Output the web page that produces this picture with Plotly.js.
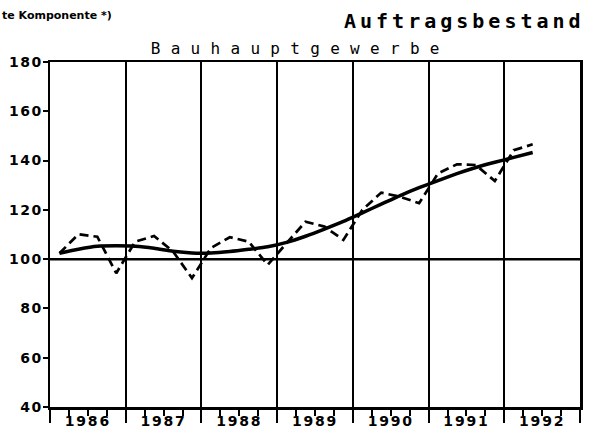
<!DOCTYPE html>
<html>
<head>
<meta charset="utf-8">
<script src="https://cdn.plot.ly/plotly-3.0.1.min.js"></script>
<style>
  html, body { margin: 0; padding: 0; background: #fff; }
  #chart { width: 593px; height: 436px; }
  .annotation[data-index="1"] text { letter-spacing: 4px; }
  .annotation[data-index="2"] text { letter-spacing: 10.3px; }
  .xtick text { letter-spacing: 1.8px; }
  .ytick text { letter-spacing: 1.5px; }
</style>
</head>
<body>
<div id="chart"></div>
<script>
// ---- data ----
const years = [1986, 1987, 1988, 1989, 1990, 1991, 1992];
const yearLabels = ["1986", "1987", "1988", "1989", "1990", "1991", "1992"];
const quarters = ["1986Q1","1986Q2","1986Q3","1986Q4","1987Q1","1987Q2","1987Q3","1987Q4",
                  "1988Q1","1988Q2","1988Q3","1988Q4","1989Q1","1989Q2","1989Q3","1989Q4",
                  "1990Q1","1990Q2","1990Q3","1990Q4","1991Q1","1991Q2","1991Q3","1991Q4",
                  "1992Q1","1992Q2"];
const originalSeries = [102.4, 110.1, 109.1, 94.3, 107.1, 109.4, 103.1, 92.3,
                        104.5, 108.9, 107.1, 97.7, 106.5, 115.2, 113.2, 107.8,
                        120.0, 127.0, 125.3, 122.7, 134.8, 138.5, 138.2, 131.7,
                        144.2, 146.6];
const trendSeries = [102.4, 104.0, 105.2, 105.4, 105.2, 104.4, 103.2, 102.5,
                     102.5, 103.1, 104.0, 105.0, 106.8, 109.3, 112.2, 115.3,
                     118.8, 122.3, 125.8, 129.0, 131.9, 134.7, 137.2, 139.3,
                     141.3, 143.3];
const yTicks = [40, 60, 80, 100, 120, 140, 160, 180];
const baseline = 100;
const titleMain = "Auftragsbestand";
const titleSub = "Bauhauptgewerbe";
const noteText = "te Komponente *)";

// quarter -> decimal year position (mid of quarter)
const qx = quarters.map(q => {
  const y = parseInt(q.slice(0, 4), 10);
  const n = parseInt(q.slice(5), 10);
  return y + (n - 0.5) / 4;
});
const xStart = years[0];
const xEnd = years[years.length - 1] + 1;
const yearBounds = years.concat([xEnd]);
const quarterMarks = [];
years.forEach(y => { quarterMarks.push(y + 0.25, y + 0.5, y + 0.75); });

const tickFont = { family: "DejaVu Sans", size: 14, color: "#000", weight: "bold" };

const traces = [
  { x: [xStart, xEnd], y: [null, null], type: "scatter", mode: "lines",
    xaxis: "x2", yaxis: "y", hoverinfo: "skip", showlegend: false },
  {
    x: qx, y: originalSeries, type: "scatter", mode: "lines",
    line: { color: "#000", width: 2.7, dash: "9px,5px" },
    xaxis: "x", yaxis: "y", hoverinfo: "skip"
  },
  {
    x: qx, y: trendSeries, type: "scatter", mode: "lines",
    line: { color: "#000", width: 3.5, shape: "spline", smoothing: 0.6 },
    xaxis: "x", yaxis: "y", hoverinfo: "skip"
  }
];

const layout = {
  width: 593, height: 436,
  margin: { l: 50, r: 13, t: 62, b: 29 },
  paper_bgcolor: "#fff", plot_bgcolor: "#fff",
  showlegend: false,
  xaxis: {
    range: [xStart, xEnd],
    tickmode: "array",
    tickvals: years.map(y => y + 0.5),
    ticktext: yearLabels,
    ticks: "",
    tickfont: tickFont,
    showgrid: false, zeroline: false,
    showline: true, linecolor: "#000", linewidth: 2.5, mirror: true,
    minor: { tickmode: "array", tickvals: quarterMarks, ticks: "outside", ticklen: 6, tickwidth: 2, tickcolor: "#000", showgrid: false },
    fixedrange: true
  },
  xaxis2: {
    overlaying: "x", anchor: "y", side: "bottom",
    range: [xStart, xEnd],
    tickmode: "array", tickvals: yearBounds,
    ticks: "outside", ticklen: 15, tickwidth: 2, tickcolor: "#000",
    showticklabels: false,
    showgrid: true, gridcolor: "#000", gridwidth: 2,
    zeroline: false, showline: false, fixedrange: true
  },
  yaxis: {
    range: [40, 180],
    tickmode: "array", tickvals: yTicks,
    ticks: "outside", ticklen: 5, tickwidth: 2, tickcolor: "#000",
    tickfont: tickFont,
    ticklabelstandoff: -3,
    showgrid: false, zeroline: false,
    showline: true, linecolor: "#000", linewidth: 2.5, mirror: true,
    fixedrange: true
  },
  shapes: [
    { type: "line", xref: "paper", x0: 0, x1: 1, yref: "y", y0: baseline, y1: baseline,
      line: { color: "#000", width: 2.5 } }
  ],
  annotations: [
    { text: noteText, xref: "paper", yref: "paper", x: -0.0943, y: 1.136,
      xanchor: "left", yanchor: "middle", showarrow: false,
      font: { family: "DejaVu Sans", size: 11, color: "#000", weight: "bold" } },
    { text: titleMain, xref: "paper", yref: "paper", x: 0.783, y: 1.119,
      xanchor: "center", yanchor: "middle", showarrow: false,
      font: { family: "DejaVu Sans Mono", size: 20, color: "#000", weight: "bold" } },
    { text: titleSub, xref: "paper", yref: "paper", x: 0.472, y: 1.038,
      xanchor: "center", yanchor: "middle", showarrow: false,
      font: { family: "DejaVu Sans Mono", size: 16, color: "#000" } }
  ]
};

Plotly.newPlot("chart", traces, layout, { displayModeBar: false, staticPlot: true });
</script>
</body>
</html>
